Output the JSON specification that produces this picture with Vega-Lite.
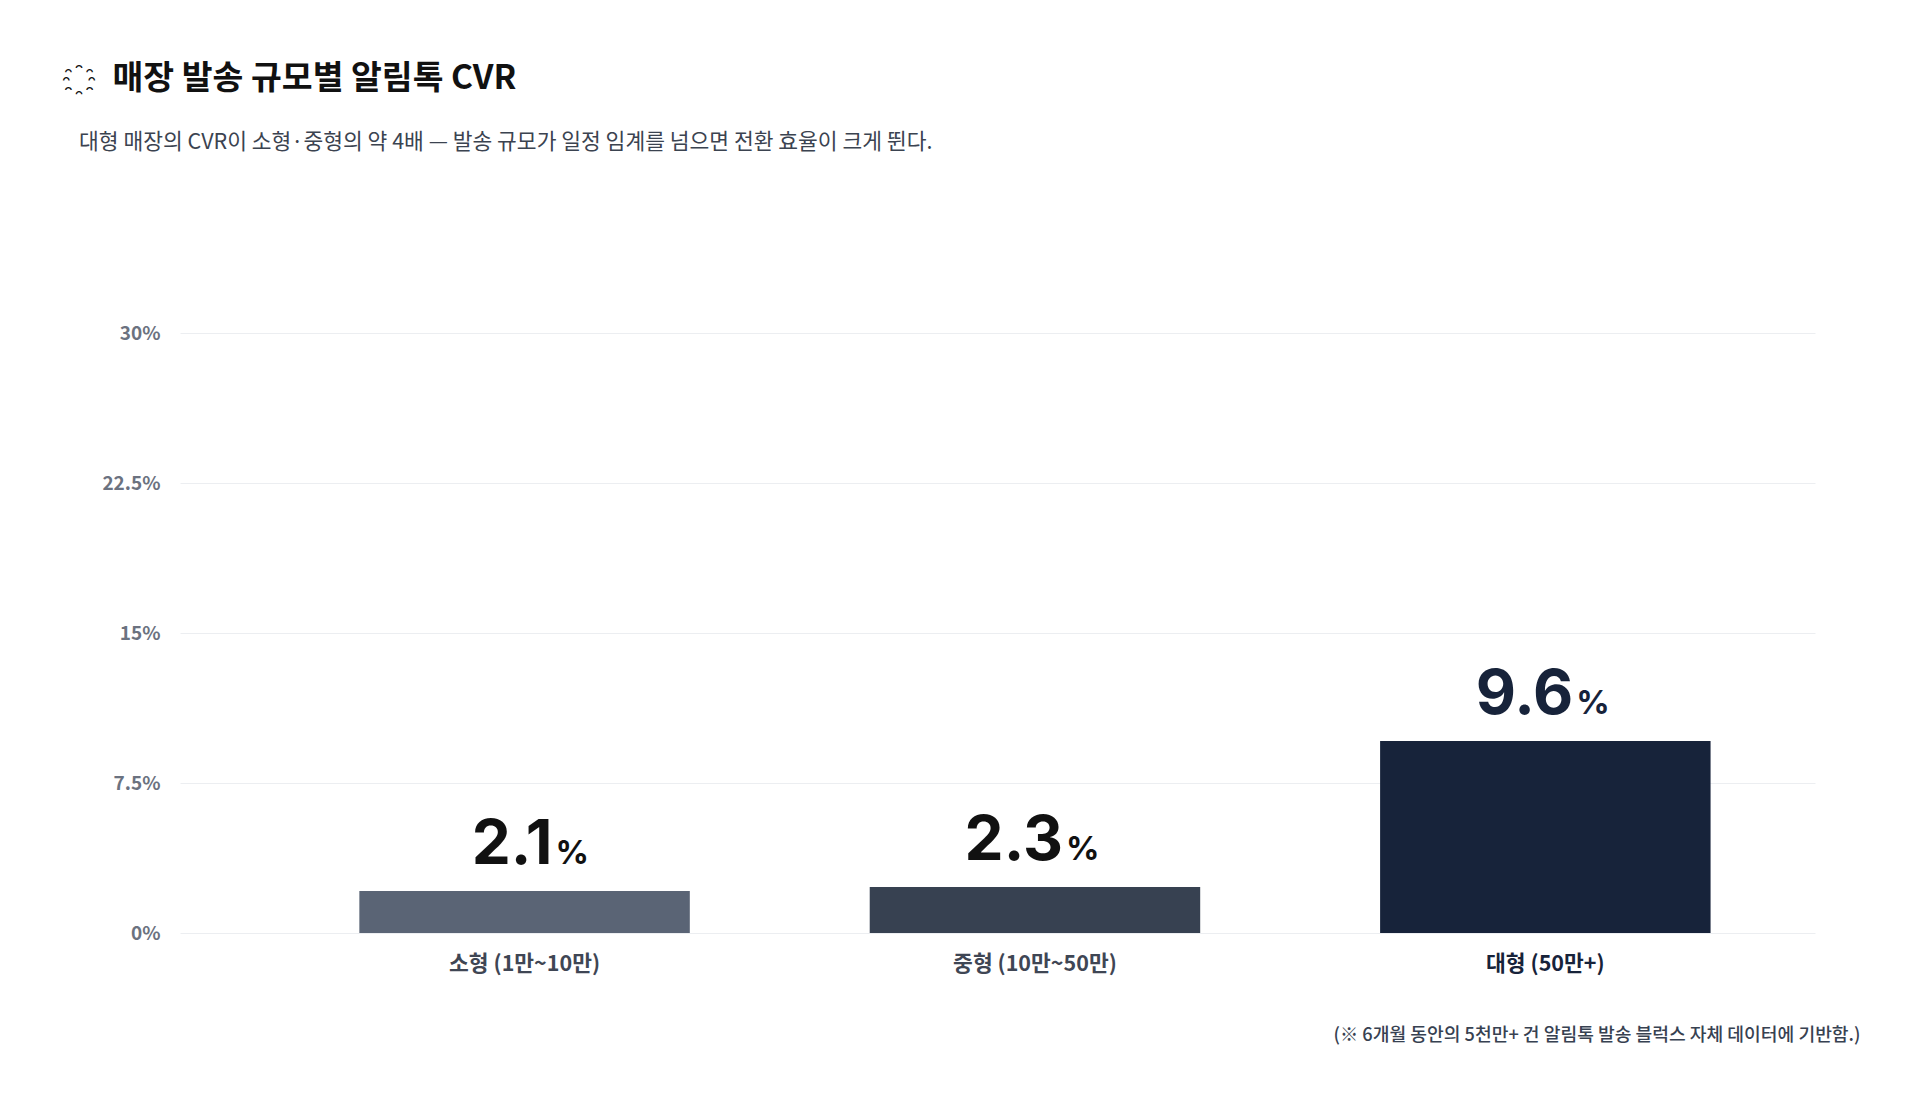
{
  "$schema": "https://vega.github.io/schema/vega-lite/v6.json",
  "width": 1635,
  "height": 600,
  "autosize": {"type": "none"},
  "padding": {"left": 180, "top": 333, "right": 105, "bottom": 169},
  "background": "white",
  "title": {
    "text": "\u2003\u0488\u2003매장 발송 규모별 알림톡 CVR",
    "subtitle": "\u2003대형 매장의 CVR이 소형·중형의 약 4배 — 발송 규모가 일정 임계를 넘으면 전환 효율이 크게 뛴다.",
    "anchor": "start",
    "frame": "group",
    "dx": -101,
    "offset": 170,
    "font": "Noto Sans CJK KR",
    "fontSize": 33.5,
    "fontWeight": 700,
    "color": "#111111",
    "subtitleFont": "Noto Sans CJK KR",
    "subtitleFontSize": 21.5,
    "subtitleFontWeight": 400,
    "subtitleColor": "#3b4350",
    "subtitlePadding": 35
  },
  "data": {
    "values": [
      {"cat": "소형 (1만~10만)", "cvr": 2.1},
      {"cat": "중형 (10만~50만)", "cvr": 2.3},
      {"cat": "대형 (50만+)", "cvr": 9.6}
    ]
  },
  "encoding": {
    "x": {
      "field": "cat",
      "type": "nominal",
      "sort": null,
      "scale": {"paddingInner": 0.3525, "paddingOuter": 0.278, "align": 0.632},
      "axis": {
        "labelAngle": 0,
        "domain": false,
        "ticks": false,
        "grid": false,
        "labelPadding": 20,
        "labelFont": "Noto Sans CJK KR",
        "labelFontSize": 21.5,
        "labelFontWeight": 700,
        "labelColor": {"condition": {"test": "datum.value === '대형 (50만+)'", "value": "#17233a"}, "value": "#3f4654"},
        "title": "(※ 6개월 동안의 5천만+ 건 알림톡 발송 블럭스 자체 데이터에 기반함.)",
        "titleX": 1680,
        "titleY": 102,
        "titleAlign": "right",
        "titleBaseline": "middle",
        "titleFont": "Noto Sans CJK KR",
        "titleFontSize": 18.2,
        "titleFontWeight": 500,
        "titleColor": "#374151"
      }
    },
    "y": {
      "field": "cvr",
      "type": "quantitative",
      "scale": {"domain": [0, 30], "nice": false},
      "axis": {
        "values": [0, 7.5, 15, 22.5, 30],
        "labelExpr": "datum.value + '%'",
        "grid": true,
        "gridColor": "#eceef1",
        "gridWidth": 1,
        "domain": false,
        "ticks": false,
        "labelPadding": 20,
        "labelFont": "Noto Sans CJK KR",
        "labelFontSize": 19,
        "labelFontWeight": 700,
        "labelColor": "#6b7280",
        "title": null
      }
    }
  },
  "layer": [
    {
      "mark": {"type": "bar"},
      "encoding": {
        "color": {
          "field": "cat",
          "type": "nominal",
          "scale": {
            "domain": ["소형 (1만~10만)", "중형 (10만~50만)", "대형 (50만+)"],
            "range": ["#5a6475", "#374151", "#17233a"]
          },
          "legend": null
        }
      }
    },
    {
      "mark": {"type": "text", "align": "right", "baseline": "alphabetic", "dx": 28, "dy": -27, "font": "Inter", "fontSize": 62, "fontWeight": 700},
      "encoding": {
        "text": {"field": "cvr", "type": "quantitative", "format": ".1f"},
        "color": {"condition": {"test": "datum.cat === '대형 (50만+)'", "value": "#17233a"}, "value": "#111111"}
      }
    },
    {
      "mark": {"type": "text", "align": "left", "baseline": "alphabetic", "dx": 31, "dy": -27, "font": "Inter", "fontSize": 33, "fontWeight": 700, "text": "%"},
      "encoding": {
        "color": {"condition": {"test": "datum.cat === '대형 (50만+)'", "value": "#17233a"}, "value": "#111111"}
      }
    }
  ],
  "config": {"view": {"stroke": null}}
}
